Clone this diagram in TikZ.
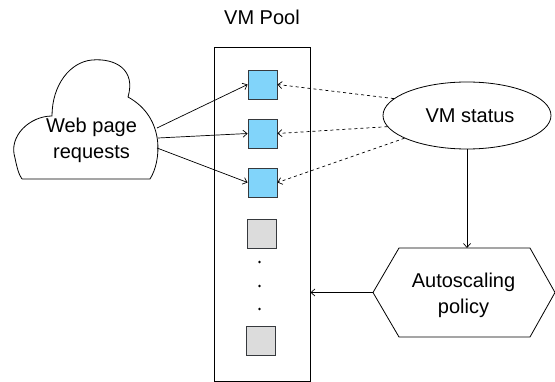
\documentclass[tikz,border=0pt]{standalone}
\usepackage{fontspec}
\setmainfont{Liberation Sans}
\usetikzlibrary{arrows.meta,shapes.geometric}
\definecolor{vmblue}{HTML}{81D4FA}
\definecolor{vmgray}{HTML}{DCDCDC}
\definecolor{vmedge}{HTML}{36393D}
\begin{document}
\begin{tikzpicture}[x=1pt,y=-1pt,
  lbl/.style={font=\fontsize{20}{26}\selectfont,align=center,inner sep=0pt},
  vmbox/.style={draw=vmedge,line width=0.9pt,minimum width=29pt,minimum height=29pt,inner sep=0pt},
  conn/.style={line width=0.7pt,-{Straight Barb[length=4pt,width=7pt]}},
  dconn/.style={conn,dash pattern=on 3pt off 3pt},
  shp/.style={draw,line width=0.8pt}]
\useasboundingbox (0,0) rectangle (555,382);
% VM pool
\node[lbl,anchor=base] (title) at (262,25) {VM Pool};
\node[shp,minimum width=96pt,minimum height=334pt,inner sep=0pt] (pool) at (262,214) {};
\node[vmbox,fill=vmblue] (b1) at (262.5,84.5) {};
\node[vmbox,fill=vmblue] (b2) at (262.5,133.5) {};
\node[vmbox,fill=vmblue] (b3) at (262.5,182.5) {};
\node[vmbox,fill=vmgray] (g1) at (262,233.5) {};
\node[vmbox,fill=vmgray] (g2) at (260.5,340.5) {};
\node[circle,fill=black,inner sep=0pt,minimum size=2.6pt] (d1) at (259.5,262) {};
\node[circle,fill=black,inner sep=0pt,minimum size=2.6pt] (d2) at (259.5,286) {};
\node[circle,fill=black,inner sep=0pt,minimum size=2.6pt] (d3) at (259.5,309) {};
% cloud
\draw[shp] (22,179) -- (150,179)
  .. controls (161,162) and (166,118) .. (128,97)
  .. controls (136,70) and (116,58) .. (92,60)
  .. controls (70,62) and (52,85) .. (52,116)
  .. controls (30,116) and (8,136) .. (15,158)
  .. controls (17,168) and (19,175) .. (22,179);
\node[lbl] (web) at (91.5,140) {Web page\\requests};
\coordinate (c1) at (157,128);
\coordinate (c2) at (158,138);
\coordinate (c3) at (157,148);
\draw[conn] (c1) -- (b1.west);
\draw[conn] (c2) -- (b2.west);
\draw[conn] (c3) -- (b3.west);
% VM status
\node[shp,ellipse,minimum width=168pt,minimum height=67pt,inner sep=0pt] (vs) at (467,115.5) {};
\node[lbl] (vst) at (470,115.5) {VM status};
\draw[dconn] (vs.167) -- (b1.east);
\draw[dconn] (vs.188) -- (b2.east);
\draw[dconn] (vs.200) -- (b3.east);
% autoscaling policy
\coordinate (hl) at (373,292.5);
\coordinate (htl) at (399,248);
\coordinate (htr) at (530,248);
\coordinate (hr) at (555,292.5);
\coordinate (hbr) at (530,337);
\coordinate (hbl) at (399,337);
\draw[shp] (hl) -- (htl) -- (htr) -- (hr) -- (hbr) -- (hbl) -- cycle;
\node[lbl] (asp) at (463.5,295) {Autoscaling\\policy};
\coordinate (ht) at (vs.south |- htl);
\draw[conn] (vs.south) -- (ht);
\draw[conn] (hl) -- (pool.east |- hl);
\end{tikzpicture}
\end{document}
